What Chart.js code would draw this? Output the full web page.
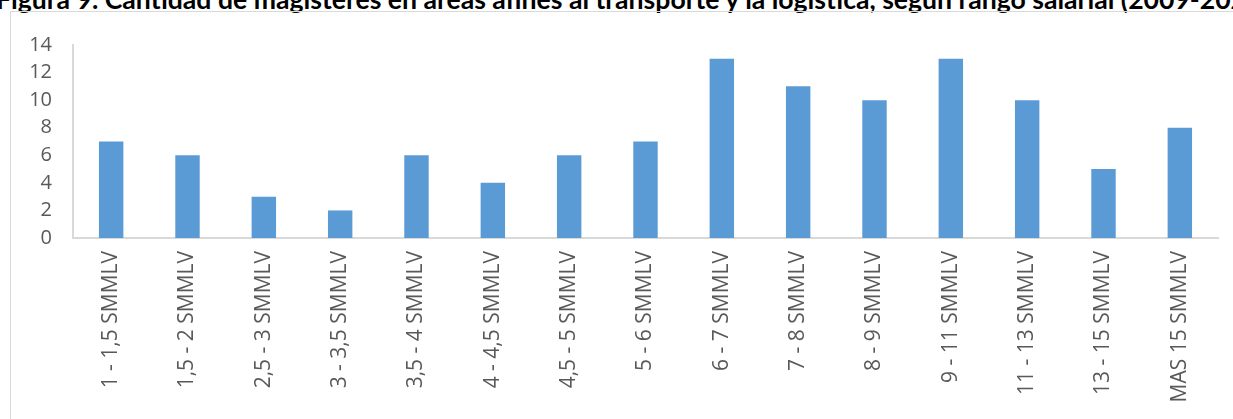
<!DOCTYPE html>
<html>
<head>
<meta charset="utf-8">
<script src="https://cdn.jsdelivr.net/npm/chart.js@4.4.0/dist/chart.umd.min.js"></script>
<style>
  body { margin: 0; background: #fff; overflow: hidden; width: 1233px; height: 419px; position: relative; }
  #titulo {
    position: absolute; left: -4px; top: -14px; white-space: nowrap; line-height: 26px;
    font-family: "Lato", sans-serif; font-weight: bold; font-size: 26.6px; color: #000;
  }
  #marco {
    position: absolute; left: 10px; top: 11px; width: 1240px; height: 420px;
    border-left: 1px solid #d9d9d9; border-top: 1px solid #d9d9d9;
  }
  #wrap { position: absolute; left: 11px; top: 12px; width: 1222px; height: 407px; }
</style>
</head>
<body>
<div id="titulo">Figura 9. Cantidad de magísteres en áreas afines al transporte y la logística, según rango salarial (2009-2020)</div>
<div id="marco"></div>
<div id="wrap"><canvas id="grafica-salarios"></canvas></div>
<script>
// rangos salariales (eje x)
var rangos = [
  "1 - 1,5 SMMLV",
  "1,5 - 2 SMMLV",
  "2,5 - 3 SMMLV",
  "3 - 3,5 SMMLV",
  "3,5 - 4 SMMLV",
  "4 - 4,5 SMMLV",
  "4,5 - 5 SMMLV",
  "5 - 6 SMMLV",
  "6 - 7 SMMLV",
  "7 - 8 SMMLV",
  "8 - 9 SMMLV",
  "9 - 11 SMMLV",
  "11 - 13 SMMLV",
  "13 - 15 SMMLV",
  "MAS 15 SMMLV",
];
// cantidad de magisteres
var cantidad = [7, 6, 3, 2, 6, 4, 6, 7, 13, 11, 10, 13, 10, 5, 8];

var ctx = document.getElementById("grafica-salarios").getContext("2d");
var grafica = new Chart(ctx, {
  type: "bar",
  data: {
    labels: rangos,
    datasets: [
      {
        label: "Cantidad",
        data: cantidad,
        backgroundColor: "#5b9bd5",
        borderWidth: 0,
        barPercentage: 0.32,
        categoryPercentage: 1,
      },
    ],
  },
  options: {
    responsive: true,
    maintainAspectRatio: false,
    animation: false,
    layout: { padding: { top: 26, right: 15, left: 0, bottom: 0 } },
    plugins: {
      legend: { display: false },
      tooltip: { enabled: false },
    },
    scales: {
      x: {
        grid: { display: false, drawTicks: false },
        border: { color: "#d9d9d9", width: 2 },
        ticks: {
          color: "#595959",
          font: { family: "Open Sans", size: 21 },
          minRotation: 90,
          maxRotation: 90,
          padding: 13,
        },
        afterFit: function (scale) {
          scale.height = 181;
        },
      },
      y: {
        min: 0,
        max: 14,
        grid: { display: false, drawTicks: false },
        border: { color: "#d9d9d9", width: 2 },
        ticks: {
          stepSize: 2,
          color: "#595959",
          font: { family: "Open Sans", size: 20 },
          padding: 21,
        },
        afterFit: function (scale) {
          scale.width = 62;
        },
      },
    },
  },
});
</script>
</body>
</html>
